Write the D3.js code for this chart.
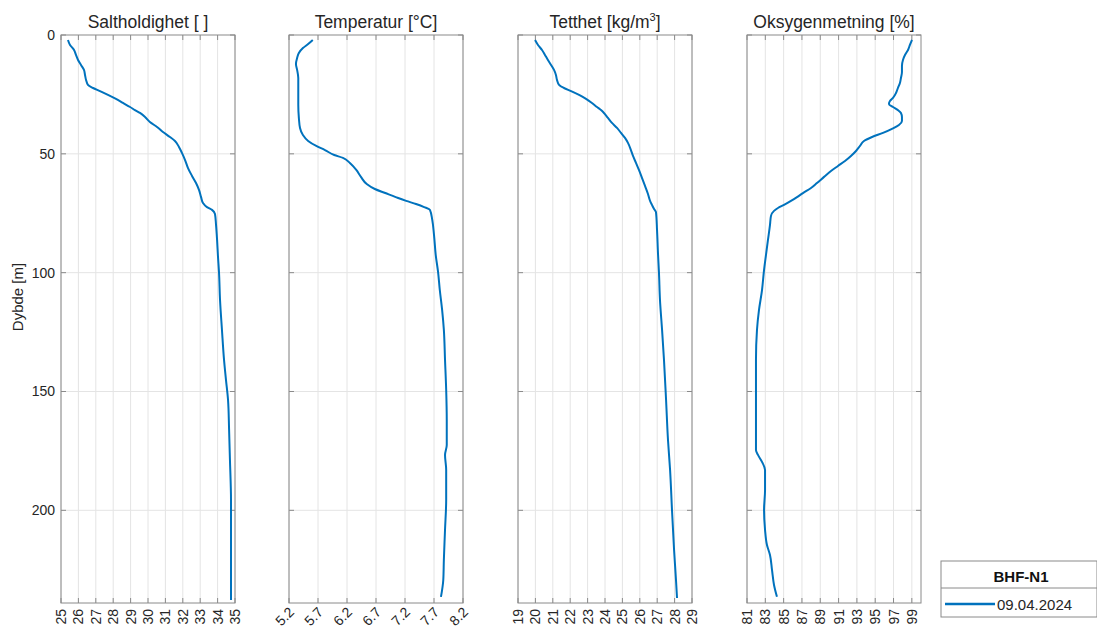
<!DOCTYPE html>
<html>
<head>
<meta charset="utf-8">
<script src="https://cdn.jsdelivr.net/npm/d3@7"></script>
<style>
  html, body { margin: 0; padding: 0; background: #fff; }
  svg { display: block; font-family: "Liberation Sans", Arial, sans-serif; }
</style>
</head>
<body>
<svg id="chart" width="1097" height="630"></svg>
<script>
// CTD profile, station BHF-N1, 09.04.2024

// Salinity
const salDepth = [2.1, 4.2, 6.3, 8.4, 10.5, 12.6, 14.7, 16.8, 18.9, 21, 22.3, 23.6, 25.2, 26.9, 28.6, 30.3, 31.6, 32.8, 34.5, 36.6, 38.7, 40.8, 42.9, 44.6, 47.1, 49.6, 52.6, 56, 59.3, 62.3, 65.2, 68.2, 70.7, 72.4, 73.6, 75.3, 79.9, 86.2, 93, 99.7, 111.5, 124, 136.7, 145, 153.6, 166, 178.8, 195.6, 216.7, 237.7];
const salValue = [25.40, 25.52, 25.75, 25.86, 25.98, 26.15, 26.32, 26.38, 26.44, 26.55, 26.84, 27.24, 27.70, 28.16, 28.56, 28.97, 29.25, 29.54, 29.83, 30.11, 30.52, 30.86, 31.26, 31.55, 31.78, 31.95, 32.13, 32.30, 32.53, 32.76, 32.93, 33.05, 33.16, 33.39, 33.68, 33.85, 33.91, 33.97, 34.02, 34.08, 34.14, 34.25, 34.37, 34.48, 34.60, 34.66, 34.71, 34.77, 34.77, 34.77];

// Temperature
const tempDepth = [2.1, 3.8, 5.5, 7.6, 9.7, 12.2, 14.7, 18.1, 23.1, 29.4, 34.9, 39.1, 42.1, 44.6, 46.7, 48.4, 50.5, 51.7, 53.9, 56.8, 59.7, 62.7, 64.8, 66.5, 68.2, 69.8, 71.1, 72.4, 73.6, 77.8, 84.1, 92.6, 99.7, 107.3, 115.7, 124.1, 136.7, 149.3, 162, 172.5, 176.7, 183, 195.6, 208.2, 220.9, 229.3, 236.4];
const tempValue = [5.61, 5.53, 5.44, 5.37, 5.34, 5.32, 5.34, 5.36, 5.36, 5.36, 5.37, 5.39, 5.44, 5.53, 5.67, 5.82, 5.98, 6.13, 6.25, 6.36, 6.44, 6.54, 6.68, 6.86, 7.04, 7.22, 7.39, 7.53, 7.63, 7.67, 7.70, 7.73, 7.77, 7.80, 7.84, 7.87, 7.89, 7.91, 7.92, 7.92, 7.89, 7.91, 7.91, 7.89, 7.87, 7.86, 7.82];

// Density
const densDepth = [2.1, 4.2, 6.3, 8.4, 10.5, 12.6, 14.7, 16.8, 18.9, 21, 22.3, 23.6, 25.2, 26.9, 28.6, 30.3, 31.6, 32.8, 34.9, 37, 39.1, 41.2, 43.3, 45.4, 48.4, 50.9, 53.8, 56.8, 60.2, 63.5, 66.9, 69.8, 71.5, 73.2, 74.5, 82, 92.6, 99.7, 111.5, 124.1, 136.7, 153.6, 170.4, 183, 199.8, 216.7, 229.3, 236.9];
const densValue = [19.98, 20.15, 20.38, 20.55, 20.72, 20.90, 21.07, 21.18, 21.24, 21.36, 21.64, 22.05, 22.51, 22.91, 23.25, 23.54, 23.77, 23.94, 24.17, 24.40, 24.69, 24.92, 25.15, 25.32, 25.49, 25.61, 25.78, 25.95, 26.13, 26.30, 26.47, 26.59, 26.70, 26.82, 26.93, 26.99, 27.05, 27.10, 27.16, 27.28, 27.39, 27.51, 27.62, 27.74, 27.85, 27.97, 28.08, 28.14];

// Oxygen saturation
const oxyDepth = [2.1, 4.2, 6.3, 8.4, 10.5, 13, 15.6, 18.1, 20.2, 22.3, 24.4, 26.5, 27.8, 29, 30.3, 31.6, 32.8, 34.5, 36.2, 37.9, 39.5, 41.2, 42.9, 44.6, 46.7, 48.8, 50.9, 53, 55.1, 57.2, 59.7, 62.3, 64.4, 66.5, 68.2, 69.8, 71.5, 72.8, 74, 76.1, 79.9, 86.2, 92.6, 98.9, 107.3, 115.7, 124.1, 136.7, 153.6, 166.2, 174.6, 176.7, 179.6, 183, 191.4, 199.8, 208.2, 214.6, 218.8, 225.1, 231.4, 236.4];
const oxyValue = [99.01, 98.79, 98.58, 98.25, 98.03, 97.92, 97.92, 97.81, 97.70, 97.48, 97.27, 96.94, 96.61, 96.50, 96.94, 97.48, 97.81, 97.92, 97.92, 97.59, 96.83, 95.85, 94.65, 93.77, 93.34, 92.90, 92.35, 91.70, 90.93, 90.17, 89.41, 88.64, 87.99, 87.11, 86.46, 85.80, 85.04, 84.38, 83.95, 83.62, 83.51, 83.29, 83.07, 82.86, 82.64, 82.31, 82.09, 81.98, 81.98, 81.98, 81.98, 82.20, 82.64, 82.97, 82.97, 82.86, 82.97, 83.18, 83.51, 83.73, 83.95, 84.27];

// Tick labels
const salTicks = [25, 26, 27, 28, 29, 30, 31, 32, 33, 34, 35];
const tempTicks = [5.2, 5.7, 6.2, 6.7, 7.2, 7.7, 8.2];
const densTicks = [19, 20, 21, 22, 23, 24, 25, 26, 27, 28, 29];
const oxyTicks = [81, 83, 85, 87, 89, 91, 93, 95, 97, 99];
const depthTicks = [0, 50, 100, 150, 200];

const titles = ["Saltholdighet [ ]", "Temperatur [°C]", "Tetthet [kg/m³]", "Oksygenmetning [%]"];
const stationName = "BHF-N1";
const dateLabel = "09.04.2024";

const panels = [
  { title: titles[0], depth: salDepth, value: salValue, domain: [25, 35], ticks: salTicks, fmt: d3.format("d"), rot: -90 },
  { title: titles[1], depth: tempDepth, value: tempValue, domain: [5.2, 8.2], ticks: tempTicks, fmt: d3.format(".1f"), rot: -45 },
  { title: titles[2], depth: densDepth, value: densValue, domain: [19, 29], ticks: densTicks, fmt: d3.format("d"), rot: -90 },
  { title: titles[3], depth: oxyDepth, value: oxyValue, domain: [81, 100], ticks: oxyTicks, fmt: d3.format("d"), rot: -90 }
];

const svg = d3.select("#chart");
const panelLeft = [61, 289, 518, 747];
const panelW = 174;
const plotTop = 35, plotBottom = 603;
const lineColor = "#0072BD";
const axisColor = "#8a8a8a";
const gridColor = "#e4e4e4";
const textColor = "#262626";

const y = d3.scaleLinear().domain([0, 239]).range([plotTop, plotBottom]);

panels.forEach((p, i) => {
  const x0 = panelLeft[i];
  const x = d3.scaleLinear().domain(p.domain).range([x0, x0 + panelW]);
  const g = svg.append("g");

  // grid
  g.selectAll(".vg").data(p.ticks).join("line")
    .attr("x1", d => x(d)).attr("x2", d => x(d))
    .attr("y1", plotTop).attr("y2", plotBottom)
    .attr("stroke", gridColor).attr("stroke-width", 1);
  g.selectAll(".hg").data(depthTicks.slice(1)).join("line")
    .attr("x1", x0).attr("x2", x0 + panelW)
    .attr("y1", d => y(d)).attr("y2", d => y(d))
    .attr("stroke", gridColor).attr("stroke-width", 1);

  // inward ticks on all four sides
  const tl = 5;
  p.ticks.forEach(t => {
    g.append("line").attr("x1", x(t)).attr("x2", x(t)).attr("y1", plotBottom).attr("y2", plotBottom - tl)
      .attr("stroke", axisColor);
    g.append("line").attr("x1", x(t)).attr("x2", x(t)).attr("y1", plotTop).attr("y2", plotTop + tl)
      .attr("stroke", axisColor);
  });
  depthTicks.forEach(t => {
    g.append("line").attr("x1", x0).attr("x2", x0 + tl).attr("y1", y(t)).attr("y2", y(t))
      .attr("stroke", axisColor);
    g.append("line").attr("x1", x0 + panelW).attr("x2", x0 + panelW - tl).attr("y1", y(t)).attr("y2", y(t))
      .attr("stroke", axisColor);
  });

  // profile line
  const line = d3.line()
    .x((d, k) => x(p.value[k]))
    .y(d => y(d))
    .curve(d3.curveMonotoneY);
  g.append("path").datum(p.depth)
    .attr("d", line)
    .attr("fill", "none")
    .attr("stroke", lineColor)
    .attr("stroke-width", 2)
    .attr("stroke-linejoin", "round");

  // box
  g.append("rect").attr("x", x0).attr("y", plotTop).attr("width", panelW).attr("height", plotBottom - plotTop)
    .attr("fill", "none").attr("stroke", axisColor).attr("stroke-width", 1);

  // x tick labels
  g.selectAll(".xl").data(p.ticks).join("text")
    .attr("transform", d => p.rot === -90
      ? `translate(${x(d) + 5},${plotBottom + 6}) rotate(-90)`
      : `translate(${x(d) + 6},${plotBottom + 10}) rotate(-45)`)
    .attr("text-anchor", "end")
    .attr("font-size", 14)
    .attr("fill", textColor)
    .text(d => p.fmt(d));

  // title
  const title = g.append("text")
    .attr("x", x0 + panelW / 2).attr("y", 28)
    .attr("text-anchor", "middle")
    .attr("font-size", 17.5)
    .attr("fill", textColor);
  if (p.title.includes("³")) {
    title.append("tspan").text("Tetthet [kg/m");
    title.append("tspan").attr("font-size", 11).attr("dy", -7).text("3");
    title.append("tspan").attr("dy", 7).text("]");
  } else {
    title.text(p.title);
  }
});

// depth axis labels (left panel only)
svg.selectAll(".yl").data(depthTicks).join("text")
  .attr("x", panelLeft[0] - 6).attr("y", d => y(d) + 5)
  .attr("text-anchor", "end")
  .attr("font-size", 14)
  .attr("fill", textColor)
  .text(d => d);

svg.append("text")
  .attr("transform", `translate(23,${(plotTop + plotBottom) / 2 - 22}) rotate(-90)`)
  .attr("text-anchor", "middle")
  .attr("font-size", 15)
  .attr("fill", textColor)
  .text("Dybde [m]");

// legend
const lg = svg.append("g");
const lx = 941, ly = 561, lw = 156, lh = 56;
lg.append("rect").attr("x", lx).attr("y", ly).attr("width", lw).attr("height", lh)
  .attr("fill", "#fff").attr("stroke", "#8a8a8a");
lg.append("line").attr("x1", lx).attr("x2", lx + lw).attr("y1", 588).attr("y2", 588)
  .attr("stroke", "#8a8a8a");
lg.append("text").attr("x", 1021).attr("y", 582).attr("text-anchor", "middle")
  .attr("font-size", 15).attr("font-weight", "bold").attr("fill", "#111").text(stationName);
lg.append("line").attr("x1", 945).attr("x2", 995).attr("y1", 604).attr("y2", 604)
  .attr("stroke", lineColor).attr("stroke-width", 2.5);
lg.append("text").attr("x", 997).attr("y", 610)
  .attr("font-size", 15).attr("fill", textColor).text(dateLabel);
</script>
</body>
</html>
